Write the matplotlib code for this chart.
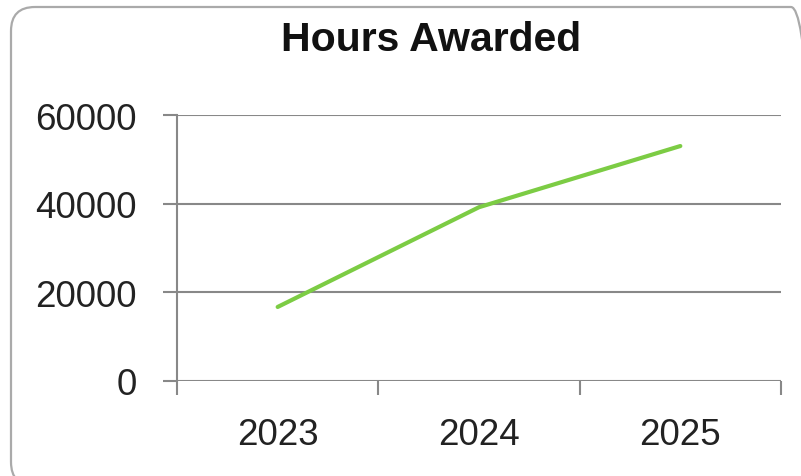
import matplotlib.pyplot as plt
from matplotlib.patches import FancyBboxPatch

years = ["2023", "2024", "2025"]
hours = [16700, 39200, 53000]
y_ticks = [0, 20000, 40000, 60000]

plt.rcParams['font.family'] = ['Liberation Sans', 'DejaVu Sans']

W, H = 801, 477
fig = plt.figure(figsize=(W / 100, H / 100), dpi=100)

# rounded frame around the chart (partly cut off on right/bottom)
box = FancyBboxPatch((11 / W, 1 - 487 / H), (815 - 11) / W, (487 - 8) / H,
                     boxstyle="round,pad=0,rounding_size=0.03",
                     transform=fig.transFigure, facecolor='none',
                     edgecolor='#aaaaaa', linewidth=1.6, mutation_aspect=W / H)
fig.patches.append(box)

ax = fig.add_axes([177 / W, 1 - 382 / H, (781 - 177) / W, (382 - 116) / H])

x = list(range(len(years)))
ax.plot(x, hours, color='#7ccc44', linewidth=3, solid_capstyle='round')

ax.set_xlim(-0.5, len(years) - 0.5)
ax.set_ylim(0, 60000)
ax.set_yticks(y_ticks)
ax.set_yticklabels([str(v) for v in y_ticks])
ax.set_xticks([i - 0.5 for i in range(len(years) + 1)])
ax.set_xticklabels([])
ax.set_xticks(x, minor=True)
ax.set_xticklabels(years, minor=True)

ax.grid(axis='y', color='#888888', linewidth=1.5)
ax.set_axisbelow(True)
for side in ['top', 'right', 'bottom']:
    ax.spines[side].set_visible(False)
ax.spines['left'].set_color('#888888')
ax.spines['left'].set_linewidth(1.5)

ax.tick_params(axis='y', length=10, width=1.5, color='#888888', pad=19,
               labelsize=26.5, labelcolor='#222222')
ax.tick_params(axis='x', which='major', length=10, width=1.5, color='#888888')
ax.tick_params(axis='x', which='minor', length=0, pad=26,
               labelsize=26.5, labelcolor='#222222')

fig.text(431 / W, 1 - 40 / H, "Hours Awarded", ha='center', va='center',
         fontsize=29.5, fontweight='bold', color='#111111')

fig.savefig("out.png", dpi=100)
